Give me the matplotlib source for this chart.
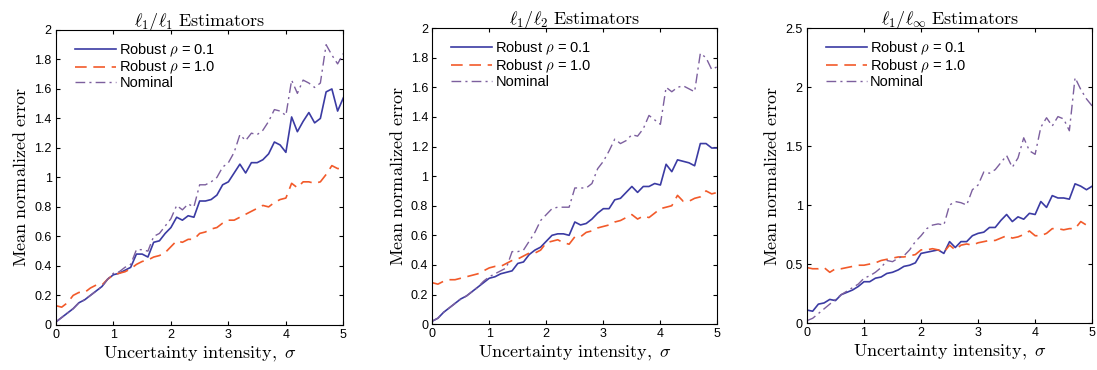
import numpy as np
import matplotlib
matplotlib.use("Agg")
import matplotlib.pyplot as plt
from matplotlib import rcParams

rcParams["font.family"] = ["Liberation Sans", "DejaVu Sans"]
rcParams["mathtext.fontset"] = "cm"
rcParams["font.size"] = 9

sigma = np.round(np.arange(0, 5.01, 0.1), 1)

# l1/l1 estimators
l1_rob01 = [0.02, 0.05, 0.08, 0.11, 0.15, 0.17, 0.20, 0.23, 0.26, 0.31, 0.34, 0.35, 0.37, 0.39, 0.48, 0.48,
            0.46, 0.56, 0.57, 0.62, 0.66, 0.73, 0.71, 0.74, 0.73, 0.84, 0.84, 0.85, 0.88, 0.95, 0.97, 1.03,
            1.09, 1.03, 1.10, 1.10, 1.12, 1.16, 1.24, 1.22, 1.17, 1.41, 1.31, 1.38, 1.44, 1.37, 1.40, 1.58,
            1.60, 1.45, 1.54]
l1_rob10 = [0.13, 0.12, 0.15, 0.20, 0.22, 0.22, 0.25, 0.27, 0.27, 0.31, 0.34, 0.35, 0.36, 0.38, 0.41, 0.43,
            0.44, 0.46, 0.47, 0.49, 0.53, 0.57, 0.56, 0.58, 0.58, 0.62, 0.63, 0.65, 0.66, 0.69, 0.71, 0.71,
            0.73, 0.75, 0.77, 0.79, 0.81, 0.80, 0.83, 0.85, 0.86, 0.96, 0.93, 0.97, 0.97, 0.96, 0.97, 1.02,
            1.08, 1.06, 1.06]
l1_nom = [0.02, 0.05, 0.08, 0.11, 0.15, 0.17, 0.20, 0.23, 0.26, 0.31, 0.35, 0.36, 0.39, 0.41, 0.51, 0.51,
          0.50, 0.60, 0.62, 0.67, 0.72, 0.81, 0.78, 0.82, 0.80, 0.95, 0.95, 0.97, 1.00, 1.07, 1.10, 1.17,
          1.29, 1.25, 1.30, 1.29, 1.32, 1.38, 1.46, 1.45, 1.42, 1.66, 1.57, 1.66, 1.64, 1.61, 1.64, 1.90,
          1.83, 1.77, 1.84]

# l1/l2 estimators
l2_rob01 = [0.02, 0.04, 0.08, 0.11, 0.14, 0.17, 0.19, 0.22, 0.25, 0.28, 0.31, 0.32, 0.34, 0.35, 0.36, 0.41,
            0.42, 0.47, 0.50, 0.52, 0.56, 0.60, 0.61, 0.61, 0.60, 0.69, 0.67, 0.68, 0.71, 0.75, 0.78, 0.78,
            0.84, 0.85, 0.89, 0.93, 0.89, 0.93, 0.93, 0.95, 0.94, 1.08, 1.03, 1.11, 1.10, 1.09, 1.07, 1.22,
            1.22, 1.19, 1.19]
l2_rob10 = [0.28, 0.27, 0.29, 0.30, 0.30, 0.31, 0.32, 0.33, 0.34, 0.36, 0.38, 0.39, 0.39, 0.41, 0.43, 0.44,
            0.46, 0.48, 0.48, 0.50, 0.55, 0.56, 0.57, 0.55, 0.54, 0.59, 0.59, 0.62, 0.63, 0.65, 0.66, 0.67,
            0.69, 0.70, 0.72, 0.74, 0.71, 0.73, 0.72, 0.75, 0.78, 0.79, 0.80, 0.87, 0.83, 0.83, 0.85, 0.86,
            0.90, 0.88, 0.89]
l2_nom = [0.02, 0.04, 0.08, 0.11, 0.14, 0.17, 0.19, 0.22, 0.25, 0.29, 0.32, 0.34, 0.36, 0.38, 0.49, 0.49,
          0.50, 0.56, 0.62, 0.70, 0.74, 0.78, 0.79, 0.79, 0.79, 0.92, 0.92, 0.92, 0.95, 1.05, 1.10, 1.17,
          1.25, 1.22, 1.24, 1.28, 1.27, 1.32, 1.41, 1.38, 1.35, 1.60, 1.57, 1.60, 1.61, 1.59, 1.57, 1.83,
          1.80, 1.72, 1.74]

# l1/linf estimators
li_rob01 = [0.11, 0.10, 0.16, 0.17, 0.20, 0.19, 0.24, 0.26, 0.28, 0.31, 0.35, 0.35, 0.38, 0.39, 0.42, 0.43,
            0.45, 0.48, 0.49, 0.51, 0.59, 0.60, 0.61, 0.62, 0.59, 0.69, 0.64, 0.69, 0.69, 0.74, 0.76, 0.77,
            0.81, 0.81, 0.87, 0.92, 0.86, 0.90, 0.88, 0.93, 0.92, 1.03, 0.98, 1.08, 1.06, 1.06, 1.05, 1.18,
            1.16, 1.13, 1.16]
li_rob10 = [0.47, 0.46, 0.46, 0.47, 0.43, 0.46, 0.46, 0.47, 0.48, 0.49, 0.49, 0.50, 0.51, 0.53, 0.54, 0.55,
            0.56, 0.56, 0.57, 0.58, 0.62, 0.62, 0.63, 0.62, 0.60, 0.66, 0.62, 0.66, 0.67, 0.66, 0.68, 0.69,
            0.70, 0.70, 0.72, 0.74, 0.72, 0.73, 0.75, 0.78, 0.74, 0.74, 0.76, 0.80, 0.80, 0.79, 0.80, 0.80,
            0.86, 0.83, 0.83]
li_nom = [0.02, 0.04, 0.08, 0.12, 0.16, 0.20, 0.24, 0.27, 0.30, 0.33, 0.38, 0.40, 0.43, 0.47, 0.53, 0.52,
          0.55, 0.57, 0.62, 0.69, 0.74, 0.80, 0.83, 0.84, 0.83, 1.00, 1.03, 1.02, 1.00, 1.13, 1.17, 1.28,
          1.27, 1.30, 1.36, 1.42, 1.32, 1.40, 1.57, 1.46, 1.43, 1.66, 1.74, 1.67, 1.75, 1.73, 1.63, 2.08,
          1.98, 1.90, 1.84]

titles = [r"$\ell_1/\ell_1\ \mathrm{Estimators}$", r"$\ell_1/\ell_2\ \mathrm{Estimators}$",
          r"$\ell_1/\ell_\infty\ \mathrm{Estimators}$"]
panels = [(l1_rob01, l1_rob10, l1_nom), (l2_rob01, l2_rob10, l2_nom), (li_rob01, li_rob10, li_nom)]
ylims = [(0, 2), (0, 2), (0, 2.5)]
yticks = [np.arange(0, 2.01, 0.2), np.arange(0, 2.01, 0.2), np.arange(0, 2.51, 0.5)]
positions = [[0.051, 0.122, 0.262, 0.797], [0.394, 0.124, 0.26, 0.80], [0.7356, 0.127, 0.26, 0.797]]

blue = "#3b3ba3"
orange = "#f25a2a"
purple = "#7c5f9e"

fig = plt.figure(figsize=(10.97, 3.70), dpi=100)
for i in range(3):
    ax = fig.add_axes(positions[i])
    rob01, rob10, nom = panels[i]
    ax.plot(sigma, rob01, c=blue, lw=1.2, label=r"Robust $\rho$ = 0.1")
    ax.plot(sigma, rob10, c=orange, lw=1.2, ls=(0, (7, 4)), label=r"Robust $\rho$ = 1.0")
    ax.plot(sigma, nom, c=purple, lw=1.0, ls=(0, (7, 3, 1.5, 3)), label="Nominal")
    ax.set_xlim(0, 5)
    ax.set_ylim(*ylims[i])
    ax.set_xticks(range(6))
    ax.set_yticks(yticks[i])
    ax.set_yticklabels(["%g" % v for v in yticks[i]])
    ax.tick_params(direction="in", top=True, right=True, length=3, labelsize=9, pad=3)
    ax.set_title(titles[i], fontsize=13, pad=3)
    ax.set_xlabel(r"$\mathrm{Uncertainty\ intensity,}\ \sigma$", fontsize=13, labelpad=3)
    ax.set_ylabel(r"$\mathrm{Mean\ normalized\ error}$", fontsize=13, labelpad=3)
    ax.legend(loc="upper left", frameon=False, fontsize=10.5, handlelength=2.8, handletextpad=0.25,
              labelspacing=0.0, borderaxespad=0.3, bbox_to_anchor=(0.03, 0.995))

fig.savefig("out.png", dpi=100)
